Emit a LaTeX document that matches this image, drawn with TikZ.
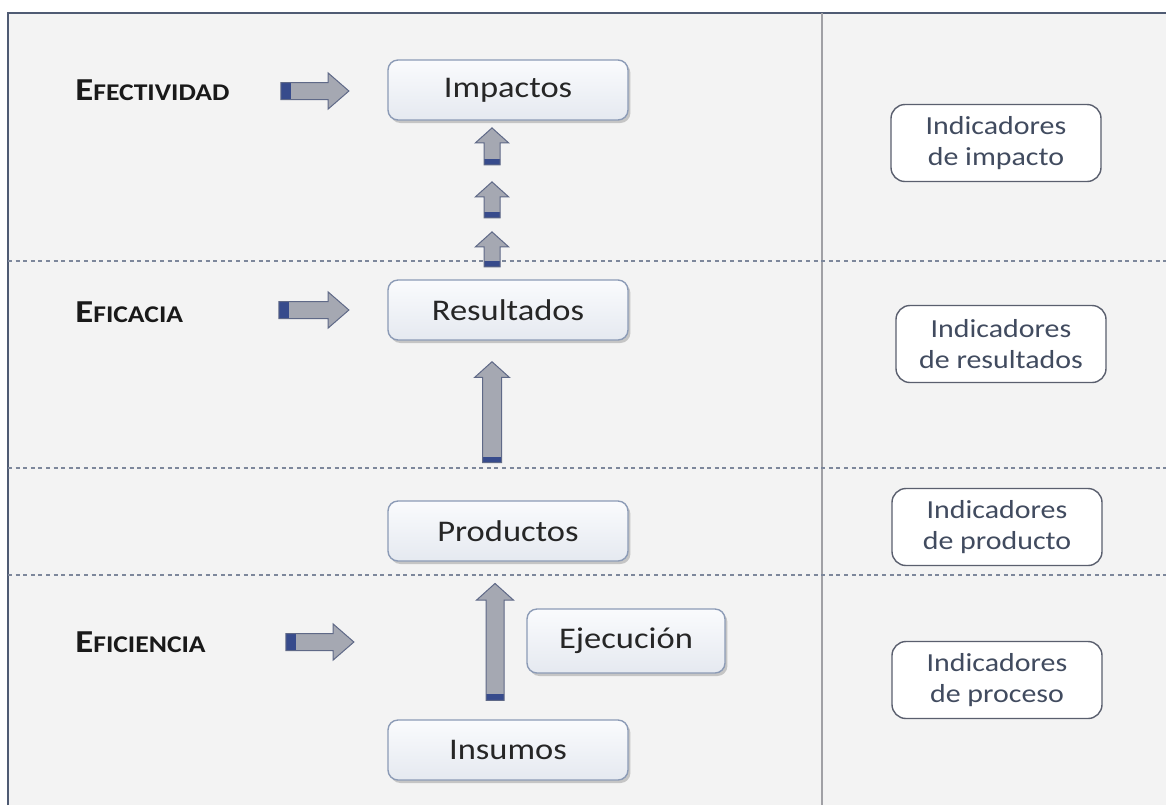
\documentclass[tikz,border=0pt]{standalone}
\usepackage{fontspec}
\setmainfont[FakeStretch=1.15]{Carlito}
\usepackage{tikz}
\usetikzlibrary{arrows,shapes,positioning,shadows}
\definecolor{mfpanel}{RGB}{243,243,243}
\definecolor{mfframe}{RGB}{79,91,115}
\definecolor{mfsep}{RGB}{160,160,165}
\definecolor{mfdash}{RGB}{125,135,155}
\definecolor{mfboxtop}{RGB}{250,251,253}
\definecolor{mfboxbot}{RGB}{229,233,240}
\definecolor{mfboxline}{RGB}{140,155,182}
\definecolor{mfarrow}{RGB}{165,168,178}
\definecolor{mfarrowline}{RGB}{95,105,135}
\definecolor{mfcap}{RGB}{55,75,140}
\definecolor{mfindtext}{RGB}{65,75,95}
\definecolor{mfindline}{RGB}{90,95,110}
\tikzstyle{level} = [rectangle, rounded corners=5pt, minimum width=120pt, minimum height=30pt, text centered, draw=mfboxline, top color=mfboxtop, bottom color=mfboxbot, line width=0.7pt, font=\fontsize{15}{18}\selectfont, text=black!85, drop shadow={shadow xshift=1.2pt, shadow yshift=-1.5pt, opacity=0.4}]
\tikzstyle{indicador} = [rectangle, rounded corners=7pt, minimum width=105pt, minimum height=38.5pt, align=center, draw=mfindline, fill=white, line width=0.7pt, font=\fontsize{13}{15.5}\selectfont, text=mfindtext]
\tikzstyle{criterio} = [anchor=base west, inner sep=0pt, text=black!90]
\tikzstyle{harrow} = [single arrow, draw=mfarrowline, fill=mfarrow, line width=0.5pt, inner sep=4pt, minimum height=34pt, single arrow head extend=4.75pt, single arrow tip angle=82, path picture={\fill[mfcap] (path picture bounding box.south west) rectangle ([xshift=5pt]path picture bounding box.north west);}]
\tikzstyle{varrow} = [single arrow, shape border rotate=90, draw=mfarrowline, fill=mfarrow, line width=0.5pt, inner sep=3.75pt, single arrow head extend=4.25pt, single arrow tip angle=96, path picture={\fill[mfcap] (path picture bounding box.south west) rectangle ([yshift=3pt]path picture bounding box.south east);}]

\begin{document}
\begin{tikzpicture}[x=0.5pt, y=-0.5pt]
\useasboundingbox (0,0) rectangle (1166,805);
% panel and frame
\fill[white] (0,0) rectangle (1166,805);
\fill[mfpanel] (8,13) rectangle (1166,805);
\draw[mfframe, line width=1pt] (8,805) -- (8,13) -- (1166,13);
\draw[mfsep, line width=0.7pt] (822,13) -- (822,805);

% level borders
\draw[mfdash, line width=0.75pt, dash pattern=on 2pt off 1.8pt] (8,261) -- (1166,261);
\draw[mfdash, line width=0.75pt, dash pattern=on 2pt off 1.8pt] (8,468) -- (1166,468);
\draw[mfdash, line width=0.75pt, dash pattern=on 2pt off 1.8pt] (8,575) -- (1166,575);

% chain of levels
\node (imp) [level] at (508,90) {Impactos};
\node (res) [level, below of=imp, node distance=110pt] {Resultados};
\node (prod) [level, below of=res, node distance=110.5pt] {Productos};
\node (ins) [level, below of=prod, node distance=109.5pt] {Insumos};
\node (ejec) [level, minimum width=99pt, minimum height=32pt] at (626,641) {Ejecución};

% criteria
\node (efect) [criterio] at (75,100) {\bfseries\fontsize{16}{18}\selectfont E\fontsize{12}{14}\selectfont FECTIVIDAD};
\node (efic) [criterio] at (75,322) {\bfseries\fontsize{16}{18}\selectfont E\fontsize{12}{14}\selectfont FICACIA};
\node (eficien) [criterio] at (75,652) {\bfseries\fontsize{16}{18}\selectfont E\fontsize{12}{14}\selectfont FICIENCIA};
\node (arrefect) [harrow] at (310,91) {};
\node (arrefic) [harrow, minimum height=35pt] at (309,310) {};
\node (arreficien) [harrow] at (315,642) {};

% upward arrows
\node (upa) [varrow, minimum height=18.5pt] at (492,150) {};
\node (upb) [varrow, minimum height=18pt] at (492,203.5) {};
\node (upc) [varrow, minimum height=17.5pt] at (492,253) {};
\node (upd) [varrow, inner sep=4.5pt, single arrow head extend=4pt, minimum height=50.5pt] at (492,416.5) {};
\node (upe) [varrow, inner sep=4.25pt, single arrow head extend=4.75pt, minimum height=58.5pt] at (495,646) {};

% indicators
\node (indimp) [indicador] at (996,143) {Indicadores\\de impacto};
\node (indres) [indicador] at (1001,344) {Indicadores\\de resultados};
\node (indprod) [indicador] at (997,527) {Indicadores\\de producto};
\node (indproc) [indicador] at (997,680) {Indicadores\\de proceso};
\end{tikzpicture}
\end{document}
